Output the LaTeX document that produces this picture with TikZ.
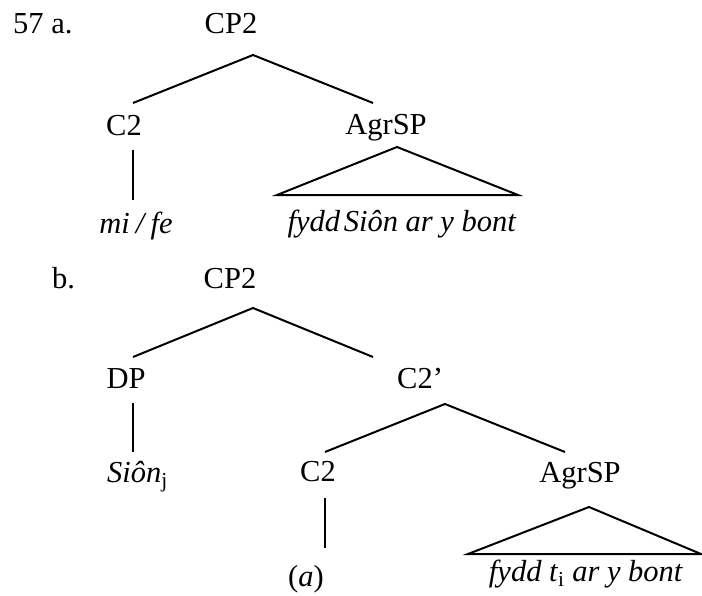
\documentclass[tikz,border=0pt]{standalone}
\usepackage{fontspec}
\setmainfont{Liberation Serif}
\usepackage{tikz}

\begin{document}
\begin{tikzpicture}[x=1pt,y=-1pt,
    every node/.style={font=\fontsize{30.5}{36}\selectfont,inner sep=0pt},
    branch/.style={line width=2pt,black}]
    \useasboundingbox (0,0) rectangle (702,595);

    % (a) CP2 -> C2 AgrSP
    \coordinate (atop) at (253,55);
    \coordinate (aleft) at (133,103);
    \coordinate (aright) at (373,103);
    \coordinate (ahead) at (133,150);
    \coordinate (afoot) at (133,200);
    \coordinate (atri) at (397,147);
    \coordinate (atril) at (277,195);
    \coordinate (atrir) at (518,195);
    \node[anchor=base west] (exa) at (13,33) {57 a.};
    \node[anchor=base] (cpa) at (231,33) {CP2};
    \node[anchor=base] (ca) at (124,135) {C2};
    \node[anchor=base] (agra) at (386,134) {AgrSP};
    \node[anchor=base] (mife) at (136,233) {\textit{mi\hspace{0.2em}/\hspace{0.2em}fe}};
    \node[anchor=base] (fydda) at (402,231) {\textit{fydd\hspace{0.12em}Siôn ar y bont}};
    \draw[branch](aleft)--(atop)--(aright);
    \draw[branch](ahead)--(afoot);
    \draw[branch](atril)--(atri)--(atrir)--cycle;

    % (b) CP2 -> DP C2'
    \coordinate (btop) at (253,308);
    \coordinate (bleft) at (133,357);
    \coordinate (bright) at (373,357);
    \coordinate (dphead) at (133,403);
    \coordinate (dpfoot) at (133,452);
    \coordinate (cbtop) at (445,404);
    \coordinate (cbleft) at (325,452);
    \coordinate (cbright) at (565,452);
    \coordinate (chead) at (325,498);
    \coordinate (cfoot) at (325,548);
    \coordinate (btri) at (589,507);
    \coordinate (btril) at (468,554);
    \coordinate (btrir) at (701,554);
    \node[anchor=base west] (exb) at (52,288) {b.};
    \node[anchor=base] (cpb) at (230,288) {CP2};
    \node[anchor=base] (dp) at (126,388) {DP};
    \node[anchor=base west] (sion) at (107,482) {\textit{Siôn}\textsubscript{j}};
    \node[anchor=base west] (cbar) at (397,388) {C2’};
    \node[anchor=base] (cb) at (318,481) {C2};
    \node[anchor=base] (agrb) at (580,482) {AgrSP};
    \node[anchor=base] (aparen) at (306,586) {(\textit{a})};
    \node[anchor=base] (fyddb) at (586,581) {\textit{fydd t}\textsubscript{i} \textit{ar y bont}};
    \draw[branch](bleft)--(btop)--(bright);
    \draw[branch](dphead)--(dpfoot);
    \draw[branch](cbleft)--(cbtop)--(cbright);
    \draw[branch](chead)--(cfoot);
    \draw[branch](btril)--(btri)--(btrir)--cycle;
  \end{tikzpicture}
\end{document}
